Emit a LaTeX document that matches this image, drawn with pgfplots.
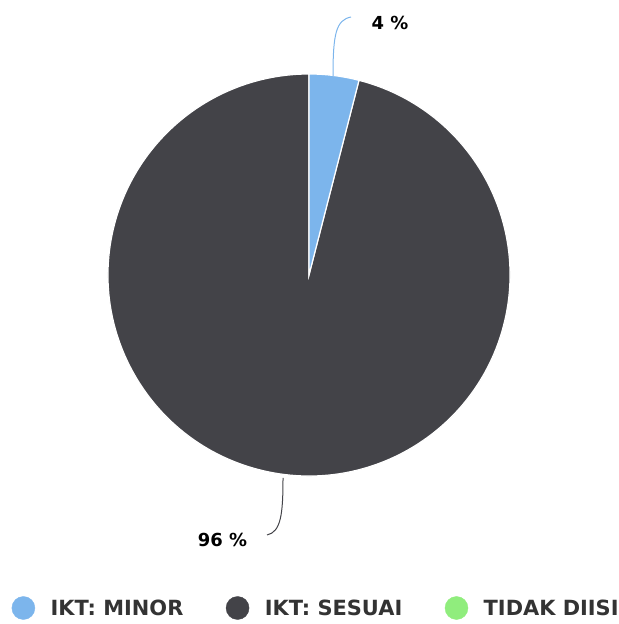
\documentclass[border=0pt]{standalone}
\usepackage{fontspec}
\setmainfont{DejaVu Sans}
\usepackage{pgfplots}
\usepackage{pgfplotstable}
\pgfplotsset{compat=1.18}
\definecolor{cMinor}{HTML}{7CB5EC}
\definecolor{cSesuai}{HTML}{434348}
\definecolor{cTidak}{HTML}{90ED7D}
\definecolor{txt}{HTML}{333333}

% share of each category (percent)
\pgfplotstableread{
label value
minor 4
sesuai 96
tidak 0
}\piedata

\begin{document}
\begin{tikzpicture}
\pgfplotstablegetelem{0}{value}\of\piedata \let\vA\pgfplotsretval
\pgfplotstablegetelem{1}{value}\of\piedata \let\vB\pgfplotsretval
\pgfmathsetmacro\angA{90-3.6*\vA}
\pgfmathsetmacro\angB{\angA-3.6*\vB}
\begin{axis}[
  scale only axis, width=619bp, height=624bp,
  xmin=0, xmax=619, ymin=0, ymax=624,
  hide axis, clip=false,
  legend columns=3,
  legend cell align=left,
  legend image code/.code={\fill[#1] (0bp,0bp) circle[radius=11.5bp];},
  legend style={draw=none, fill=none, at={(axis cs:11.5,16)}, anchor=west,
    inner sep=0pt, nodes={inner sep=0pt},
    font=\bfseries\fontsize{21}{24}\selectfont, text=txt,
    /tikz/every odd column/.append style={column sep=15.5bp},
    /tikz/every even column/.append style={column sep=42.5bp}},
]
\path (axis cs:0,0) rectangle (axis cs:619,624);
% slices
\fill[cSesuai, draw=white, line width=1.2bp] (axis cs:309,349) -- ++(\angA:201bp)
  arc[start angle=\angA, end angle=\angB, radius=201bp] -- cycle;
\fill[cMinor, draw=white, line width=1.2bp] (axis cs:309,349) -- ++(90:201bp)
  arc[start angle=90, end angle=\angA, radius=201bp] -- cycle;
% connectors
\draw[cMinor, line width=1bp] (axis cs:333,548) .. controls (axis cs:333,590) and (axis cs:336,604) .. (axis cs:351,607);
\draw[cSesuai, line width=1bp] (axis cs:283,146) .. controls (axis cs:283,110) and (axis cs:281,92) .. (axis cs:267,89);
% data labels
\node[font=\bfseries\fontsize{18}{22}\selectfont, anchor=base] at (axis cs:390,594) {\vA~\%};
\node[font=\bfseries\fontsize{18}{22}\selectfont, anchor=base] at (axis cs:222.5,77) {\vB~\%};
% legend
\addlegendimage{color=cMinor}
\addlegendentry{IKT: MINOR}
\addlegendimage{color=cSesuai}
\addlegendentry{IKT: SESUAI}
\addlegendimage{color=cTidak}
\addlegendentry{TIDAK DIISI}
\end{axis}
\end{tikzpicture}
\end{document}
